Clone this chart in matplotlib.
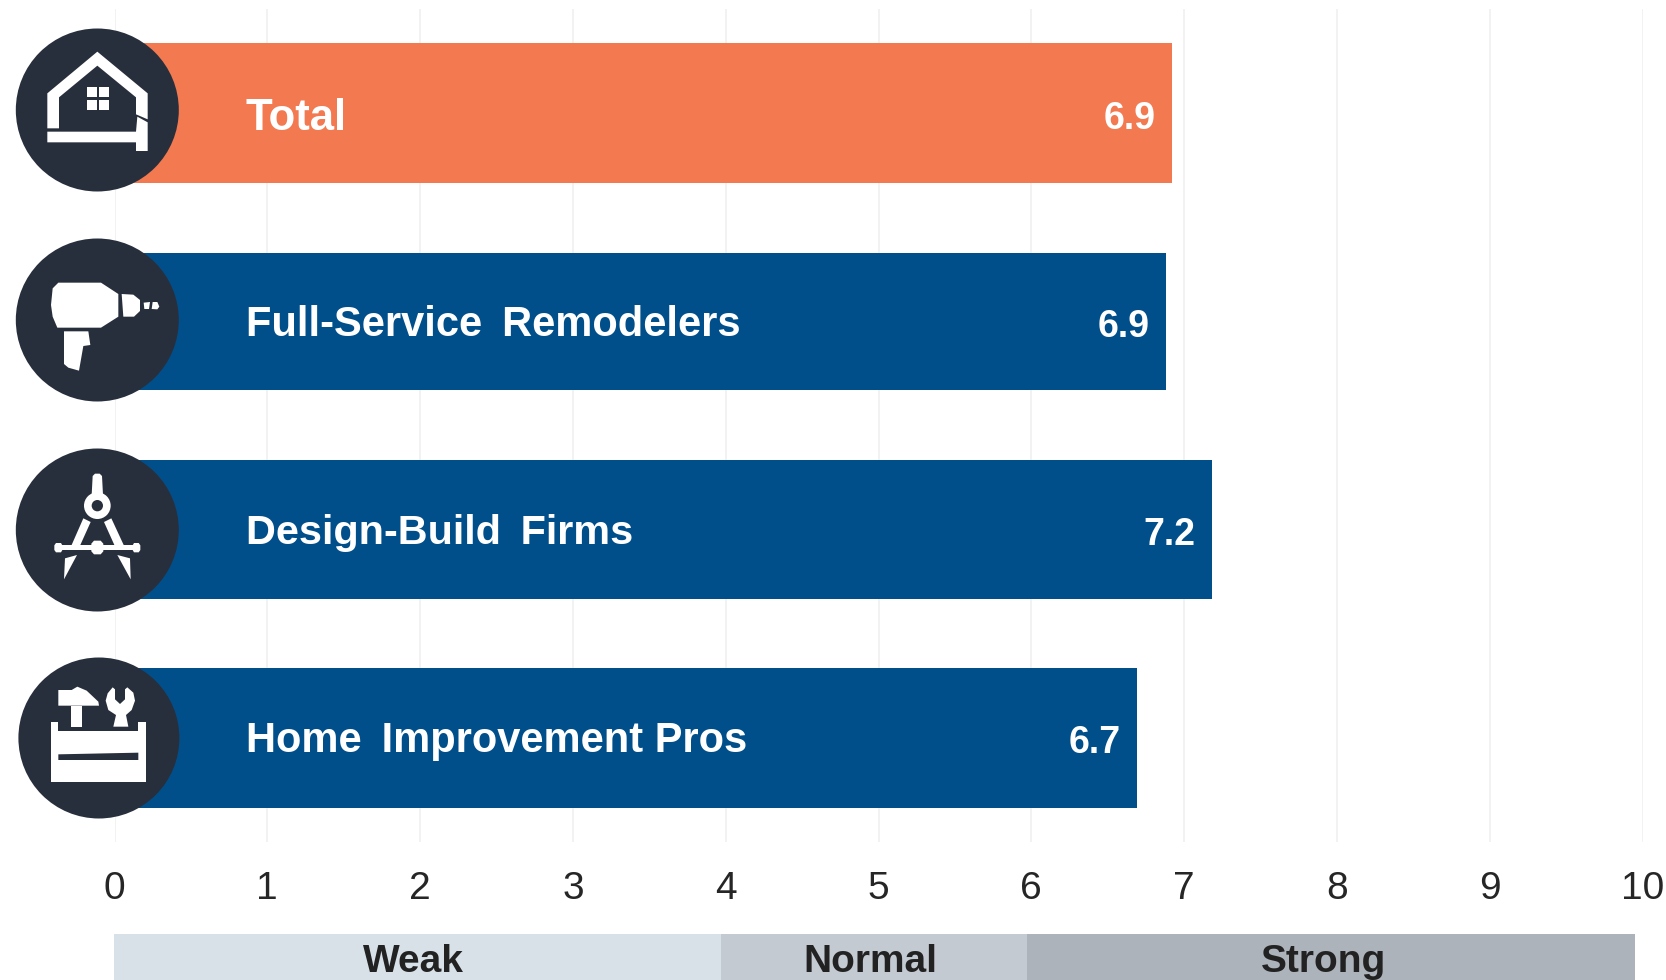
import matplotlib
matplotlib.use("Agg")
from matplotlib import pyplot as plt
from matplotlib.patches import Circle, Polygon

plt.rcParams['font.family'] = ['Liberation Sans', 'DejaVu Sans']

categories = ['Total', 'Full-Service \u2009Remodelers', 'Design-Build \u2009Firms', 'Home \u2009Improvement Pros']
scores = [6.92, 6.88, 7.18, 6.69]
score_labels = ['6.9', '6.9', '7.2', '6.7']
xticks = [0, 1, 2, 3, 4, 5, 6, 7, 8, 9, 10]

band_names = ['Weak', 'Normal', 'Strong']
band_starts = [0.0, 3.97, 5.97]
band_ends = [3.97, 5.97, 9.95]
band_label_x = [1.96, 4.95, 7.91]

ORANGE = '#F27950'
BLUE = '#004F8B'
DARK = '#282F3C'
band_colors = ['#D9E1E8', '#C3CAD1', '#ADB3BA']

W, H = 1666, 980
fig = plt.figure(figsize=(W / 100, H / 100), dpi=100, facecolor='white')


def axes_px(left, top, right, bottom):
    return fig.add_axes([left / W, 1 - bottom / H, (right - left) / W, (bottom - top) / H])


### ------ bars ------
ax = axes_px(114.5, 9, 1642.5, 842)
ax.set_xlim(0, 10)
ax.set_ylim(3.5, -0.5)
colors = [ORANGE, BLUE, BLUE, BLUE]
ax.barh(range(len(scores)), scores, height=[0.67, 0.66, 0.67, 0.67], color=colors, zorder=2)
label_nudge = [0.083, 0.07, 0.07, 0.07]
label_sizes = [31.5, 30, 29.8, 30]
for i, name in enumerate(categories):
    ax.text(0.86, i + label_nudge[i], name, color='white', fontsize=label_sizes[i], fontweight='bold',
            va='baseline', ha='left', zorder=3)
    ax.text(scores[i] - 0.105, i + 0.074, score_labels[i], color='white', fontsize=27,
            fontweight='bold', va='baseline', ha='right', zorder=3)

ax.set_xticks(xticks)
ax.set_yticks([])
ax.grid(axis='x', color='#F1F1F1', linewidth=1.3, zorder=0)
ax.set_axisbelow(True)
ax.tick_params(axis='x', length=0, pad=21, labelsize=28, labelcolor='#262626')
for s in ax.spines.values():
    s.set_visible(False)

### ------ rating band ------
band = axes_px(114, 934, 1643, 980)
band.set_xlim(0, 10)
band.set_ylim(0, 1)
band.axis('off')
for start, end, c, name, lx in zip(band_starts, band_ends, band_colors, band_names, band_label_x):
    band.barh(0.5, end - start, left=start, height=1, color=c, clip_on=False)
    band.text(lx, 0.17, name, ha='center', va='baseline', fontsize=28, fontweight='bold',
              color='#222222')

### ------ icons, traced in zoomed pixels (3x) ------
over = fig.add_axes([0, 0, 1, 1])
over.set_xlim(0, W)
over.set_ylim(H, 0)
over.axis('off')
over.patch.set_alpha(0)


def poly(pts, y0=0, color='white'):
    over.add_patch(Polygon([(x / 3, y0 + y / 3) for x, y in pts], closed=True, fc=color, ec='none'))


for cx, cy, r in [(97.3, 110, 81.5), (97.3, 320, 81.5), (97.3, 530, 81.5), (98.9, 738, 80.5)]:
    over.add_patch(Circle((cx, cy), r, fc=DARK, ec='none'))

# house
poly([(142, 385), (142, 280), (292, 155), (443, 280), (443, 358), (408, 343), (408, 292),
      (292, 197), (177, 292), (177, 385)])
poly([(142, 395), (408, 395), (412, 350), (443, 367), (443, 453), (408, 453), (408, 427), (142, 427)])
for wx, wy in [(260, 262), (297, 262), (260, 300), (297, 300)]:
    poly([(wx, wy), (wx + 30, wy), (wx + 30, wy + 30), (wx, wy + 30)])

# drill
poly([(175, 848), (303, 848), (355, 882), (355, 950), (303, 983), (172, 983), (158, 950),
      (153, 915), (158, 865)])
poly([(365, 882), (400, 884), (420, 900), (420, 933), (402, 950), (370, 950)])
poly([(431, 908), (450, 906), (447, 927), (433, 927)])
poly([(458, 906), (472, 906), (478, 920), (472, 928), (455, 927)])
poly([(192, 994), (265, 994), (271, 1035), (250, 1038), (237, 1112), (205, 1103), (192, 1092)])

# compass
y0 = 430
poly([(278, 138), (285, 131), (299, 131), (306, 138), (309, 195), (275, 195)], y0)
over.add_patch(Circle((292 / 3, y0 + 227 / 3), 40 / 3, fc='white', ec='none'))
over.add_patch(Circle((292 / 3, y0 + 227 / 3), 17 / 3, fc=DARK, ec='none'))
poly([(250, 265), (272, 276), (240, 347), (214, 347)], y0)
poly([(312, 276), (334, 265), (372, 347), (344, 347)], y0)
poly([(165, 346), (420, 346), (420, 360), (165, 360)], y0)
poly([(168, 339), (183, 339), (187, 346), (187, 360), (183, 367), (168, 367), (163, 360), (163, 346)], y0)
poly([(402, 339), (416, 339), (421, 346), (421, 360), (416, 367), (402, 367), (398, 360), (398, 346)], y0)
poly([(282, 332), (302, 332), (310, 341), (310, 364), (302, 373), (282, 373), (274, 364), (274, 341)], y0)
poly([(195, 385), (231, 375), (192, 448)], y0)
poly([(352, 375), (390, 385), (392, 448)], y0)

# toolbox
poly([(152, 875), (175, 875), (175, 902), (415, 902), (415, 875), (439, 875), (439, 1055),
      (152, 1055)], y0)
poly([(175, 973), (415, 968), (415, 990), (175, 990)], y0, DARK)
poly([(175, 780), (215, 780), (232, 770), (260, 782), (295, 815), (297, 827), (175, 827)], y0)
poly([(212, 827), (247, 827), (247, 890), (212, 890)], y0)
poly([(338, 772), (345, 778), (345, 808), (360, 822), (375, 808), (375, 778), (382, 772),
      (400, 788), (405, 812), (395, 840), (378, 855), (385, 890), (340, 890), (348, 855),
      (325, 840), (317, 812), (323, 790)], y0)

fig.savefig('out.png', dpi=100)
